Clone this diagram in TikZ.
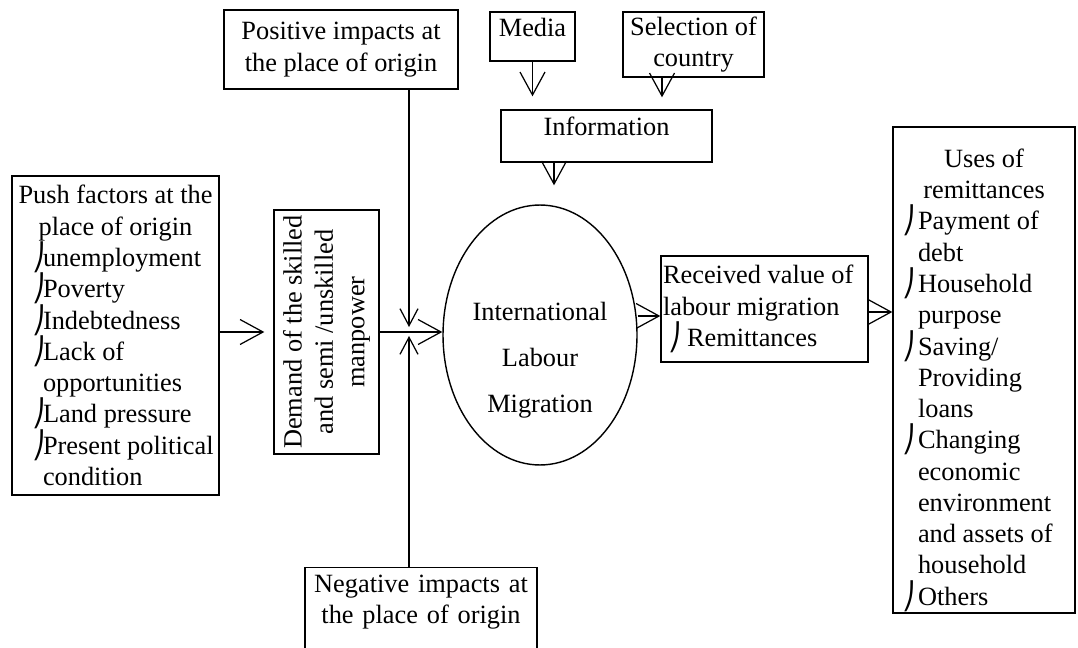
\documentclass[tikz,border=0pt]{standalone}
\usepackage{fontspec}
\setmainfont{Liberation Serif}
\newfontfamily\bulfont{DejaVu Sans}
\usetikzlibrary{arrows.meta,positioning,calc,shapes.geometric}
\newcommand{\bul}[2]{\hspace*{#1}\makebox[#2][l]{\bulfont ⎠}}
\tikzset{
  box/.style={
    draw=black,fill=white,line width=.8pt,inner sep=0pt,
    align=center,font=\fontsize{15}{17.8}\selectfont
  },
  listbox/.style={
    draw=black,fill=white,line width=.8pt,inner xsep=.08cm,inner ysep=0pt,
    align=left,font=\fontsize{15}{17.8}\selectfont
  },
  arrow/.style={-{Straight Barb[length=4.6mm,width=5mm]},line width=.7pt},
  smallarrow/.style={-{Straight Barb[length=3.4mm,width=3.6mm]},line width=.7pt}
}
\begin{document}
\begin{tikzpicture}[x=0.02cm,y=-0.02cm]
\useasboundingbox (0,0) rectangle (1078,648);

% boxes on top
\node[box,minimum width=4.68cm,minimum height=1.58cm] (positive) at (341,49.5)
{Positive impacts at\\the place of origin};
\node[box,minimum width=1.7cm,minimum height=.98cm,text height=.36cm,text depth=.36cm] (media) at (532.5,36.5)
{Media};
\node[box,minimum width=2.82cm,minimum height=1.3cm] (country) at (693.5,44.5)
{Selection of\\country};
\node[box,minimum width=4.22cm,minimum height=1.04cm,text height=.36cm,text depth=.36cm] (info) at (606.5,136)
{Information};

% left side
\node[listbox,minimum height=6.38cm] (push) at (115.5,335.5)
{\makebox[3.98cm]{Push factors at the}\\
\makebox[3.98cm]{place of origin}\\
\bul{.32cm}{.22cm}unemployment\\
\bul{.32cm}{.22cm}Poverty\\
\bul{.32cm}{.22cm}Indebtedness\\
\bul{.32cm}{.22cm}Lack of\\
\hspace*{.54cm}opportunities\\
\bul{.32cm}{.22cm}Land pressure\\
\bul{.32cm}{.22cm}Present political\\
\hspace*{.54cm}condition};
\node[box,rotate=90,minimum width=4.88cm,minimum height=2.1cm] (demand) at (326.5,332)
{Demand of the skilled\\and semi /unskilled\\manpower};

% centre
\node[ellipse,draw=black,line width=.8pt,minimum width=3.88cm,minimum height=5.2cm,inner sep=0pt,
  label={[align=center,font=\fontsize{15}{26.2}\selectfont,yshift=-.5cm]center:International\\Labour\\Migration}]
  (ilm) at (540,335) {};
\coordinate (meet) at (409,332);
\node[box,anchor=north,text width=4.64cm,inner ysep=.14cm] (negative) at (421,567)
{Negative impacts at\\the place of origin\par\rule{0pt}{1.2cm}};

% right side
\node[listbox,inner xsep=.04cm,minimum height=2.12cm] (received) at (764.5,309)
{\makebox[4.06cm][l]{Received value of}\\labour migration\\
\bul{.1cm}{.38cm}Remittances};
\node[listbox,minimum height=9.72cm] (uses) at (984,370)
{\rule{0pt}{.78cm}\makebox[3.48cm]{Uses of}\\
\makebox[3.48cm]{remittances}\\
\bul{.1cm}{.32cm}Payment of\\
\hspace*{.42cm}debt\\
\bul{.1cm}{.32cm}Household\\
\hspace*{.42cm}purpose\\
\bul{.1cm}{.32cm}Saving/\\
\hspace*{.42cm}Providing\\
\hspace*{.42cm}loans\\
\bul{.1cm}{.32cm}Changing\\
\hspace*{.42cm}economic\\
\hspace*{.42cm}environment\\
\hspace*{.42cm}and assets of\\
\hspace*{.42cm}household\\
\bul{.1cm}{.32cm}Others};

% connectors
\draw[arrow,shorten >=.18cm] (push.east |- demand.north) -- (demand.north);
\draw[arrow] (demand.south) -- (demand.south -| ilm.west);
\draw[smallarrow,shorten >=.1cm] (positive.south -| meet) -- (meet);
\draw[smallarrow,shorten >=.08cm] (negative.north -| meet) -- (meet);
\draw[arrow,shorten >=.26cm] (media.south) -- (media.south |- info.north);
\draw[arrow,shorten >=.24cm] ([xshift=-.63cm]country.south) -- ([xshift=-.63cm]country.south |- info.north);
\draw[arrow,shorten >=.38cm] ([xshift=-1.05cm]info.south) -- ([xshift=-1.05cm]info.south |- ilm.north);
\draw[arrow] ([yshift=-.14cm]received.west -| ilm.east) -- ([yshift=-.14cm]received.west);
\draw[arrow] ([yshift=-.06cm]received.east) -- ([yshift=-.06cm]received.east -| uses.west);
\end{tikzpicture}
\end{document}
